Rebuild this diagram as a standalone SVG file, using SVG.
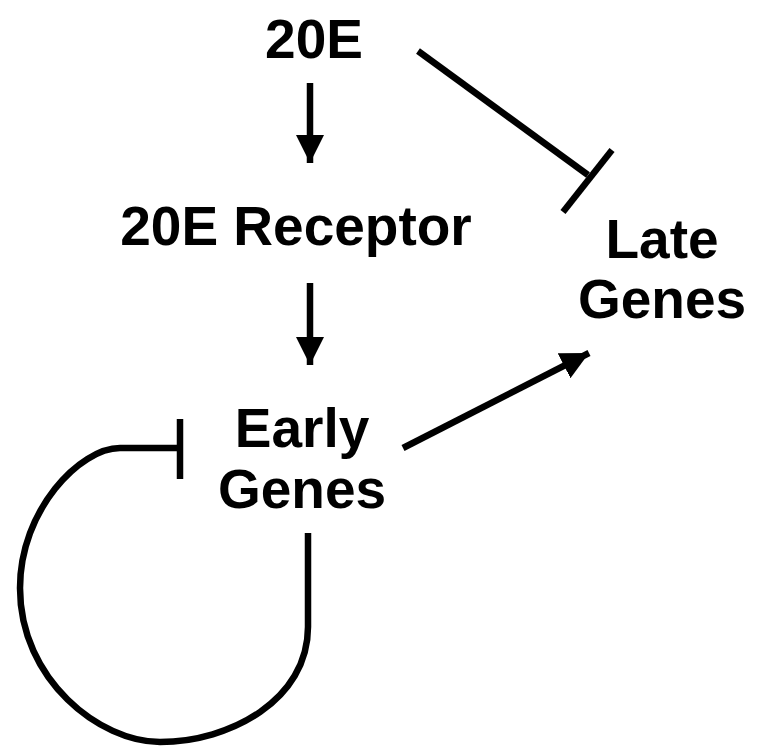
<svg xmlns="http://www.w3.org/2000/svg" width="782" height="747" viewBox="0 0 782 747">
<style>
.t{font-family:"Liberation Sans",Arial,sans-serif;font-weight:bold;font-size:55px;fill:#000;text-anchor:middle}
.c{stroke:#000;stroke-width:6.5;fill:none}
</style>
<defs>
<marker id="ah" markerUnits="userSpaceOnUse" markerWidth="30" markerHeight="30" viewBox="0 0 30 30" refX="28" refY="15" orient="auto">
<path d="M0,1 L28,15 L0,29 Z" fill="#000"/>
</marker>
</defs>
<rect width="782" height="747" fill="#fff"/>
<g id="n20E"><text class="t" x="314" y="58">20E</text></g>
<g id="receptor"><text class="t" x="296" y="245">20E Receptor</text></g>
<g id="early"><text class="t" x="302" y="447">Early</text><text class="t" x="302" y="508">Genes</text></g>
<g id="late"><text class="t" x="662" y="258">Late</text><text class="t" x="662" y="318">Genes</text></g>
<g id="connectors">
<line class="c" x1="310" y1="83" x2="310" y2="163" marker-end="url(#ah)"/>
<line class="c" x1="310" y1="283" x2="310" y2="365" marker-end="url(#ah)"/>
<line class="c" x1="403" y1="448" x2="589" y2="353" marker-end="url(#ah)"/>
<line class="c" x1="418" y1="51" x2="588" y2="175"/>
<line class="c" x1="612" y1="150" x2="563" y2="212"/>
<path class="c" d="M308,533 L308,627 C308,700 230,742 160,742 C100,742 20,680 20,588 C20,510 80,448 120,448 L180,448"/>
<line class="c" x1="180" y1="419" x2="180" y2="479"/>
</g>
</svg>
